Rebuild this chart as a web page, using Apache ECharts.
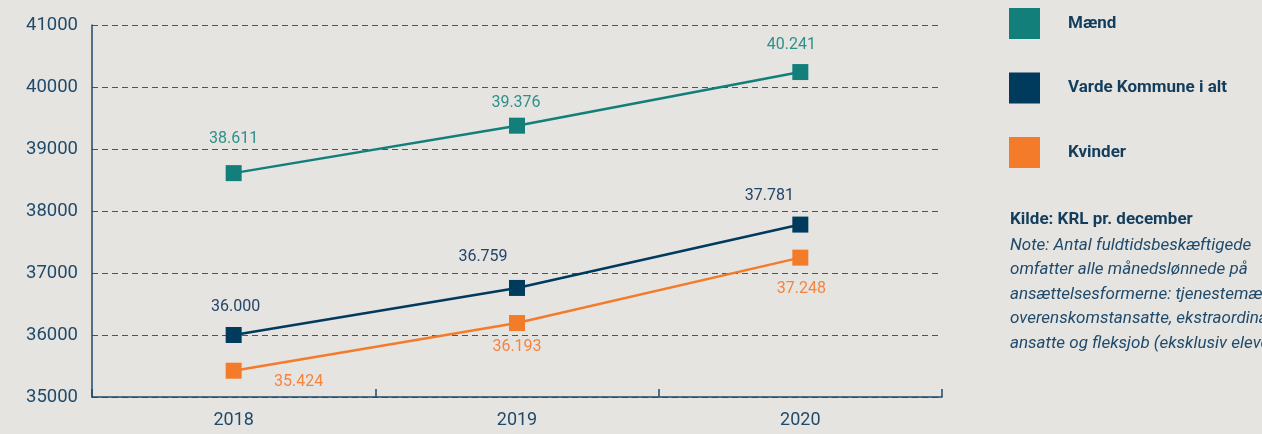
<!DOCTYPE html>
<html><head><meta charset="utf-8">
<script src="https://cdn.jsdelivr.net/npm/echarts@6/dist/echarts.min.js"></script>
<style>html,body{margin:0;padding:0;background:#e5e4e0;}#c{width:1262px;height:434px;}</style>
</head><body><div id="c"></div>
<script>
const categories = ['2018', '2019', '2020'];
const maend = [38611, 39376, 40241];
const varde = [36000, 36759, 37781];
const kvinder = [35424, 36193, 37248];
const seriesNames = ['Mænd', 'Varde Kommune i alt', 'Kvinder'];
const yTicks = [35000, 36000, 37000, 38000, 39000, 40000, 41000];
const sourceTitle = 'Kilde: KRL pr. december';
const noteLines = [
  'Note: Antal fuldtidsbeskæftigede',
  'omfatter alle månedslønnede på',
  'ansættelsesformerne: tjenestemænd,',
  'overenskomstansatte, ekstraordinært',
  'ansatte og fleksjob (eksklusiv elever)'
];

const FONT = 'Roboto';
const fmt = v => { const s = String(v); return s.slice(0, s.length - 3) + '.' + s.slice(-3); };

function mk(values, offsets) {
  return values.map((v, i) => ({ value: v, label: { position: 'inside', offset: offsets[i] } }));
}

const chart = echarts.init(document.getElementById('c'));
chart.setOption({
  backgroundColor: '#e5e4e0',
  animation: false,
  grid: { left: 92, right: 320, top: 25, bottom: 37 },
  xAxis: {
    type: 'category', data: categories, boundaryGap: true,
    axisLine: { lineStyle: { color: '#1f4a6b', width: 1.5 } },
    axisTick: { show: true, inside: true, length: 8, interval: 0, lineStyle: { color: '#1f4a6b', width: 1.5 } },
    axisLabel: { color: '#1f4a6b', fontFamily: FONT, fontSize: 18, margin: 14 }
  },
  yAxis: {
    type: 'value', min: yTicks[0], max: yTicks[yTicks.length - 1], interval: 1000,
    axisLine: { show: true, lineStyle: { color: '#1f4a6b', width: 1.5 } },
    axisTick: { show: false },
    axisLabel: { color: '#1f4a6b', fontFamily: FONT, fontSize: 18.5, margin: 14, formatter: v => String(v) },
    splitLine: { lineStyle: { color: '#36597a', type: [6, 4], width: 1 } }
  },
  legend: {
    orient: 'vertical', left: 1009, top: 8, padding: 0, itemWidth: 31, itemHeight: 31, itemGap: 33.5,
    icon: 'rect', data: seriesNames,
    textStyle: { color: '#133d5c', fontFamily: FONT, fontWeight: 'bold', fontSize: 17, padding: [6, 0, 0, 23] }
  },
  graphic: [
    { type: 'text', left: 1010, top: 211, style: { text: sourceTitle, fill: '#133d5c', font: 'bold 17px ' + FONT } },
    { type: 'text', left: 1010, top: 233, style: { text: noteLines.join('\n'), fill: '#1f4a6b', font: 'italic 17px ' + FONT, lineHeight: 24.5 } }
  ],
  series: [
    {
      name: seriesNames[0], type: 'line', symbol: 'rect', symbolSize: 16,
      color: '#137f7a', lineStyle: { width: 2.5 },
      label: { show: true, formatter: p => fmt(p.value), color: '#2f8f89', fontFamily: FONT, fontSize: 16 },
      data: mk(maend, [[0, -34], [-1, -23], [-9, -27]])
    },
    {
      name: seriesNames[1], type: 'line', symbol: 'rect', symbolSize: 16,
      color: '#003a5d', lineStyle: { width: 2.5 },
      label: { show: true, formatter: p => fmt(p.value), color: '#24456a', fontFamily: FONT, fontSize: 16 },
      data: mk(varde, [[2, -28], [-34, -31], [-31, -29]])
    },
    {
      name: seriesNames[2], type: 'line', symbol: 'rect', symbolSize: 16,
      color: '#f47b2a', lineStyle: { width: 2.5 },
      label: { show: true, formatter: p => fmt(p.value), color: '#f4843f', fontFamily: FONT, fontSize: 16 },
      data: mk(kvinder, [[65, 11], [0, 24], [1, 31]])
    }
  ]
});
</script></body></html>
